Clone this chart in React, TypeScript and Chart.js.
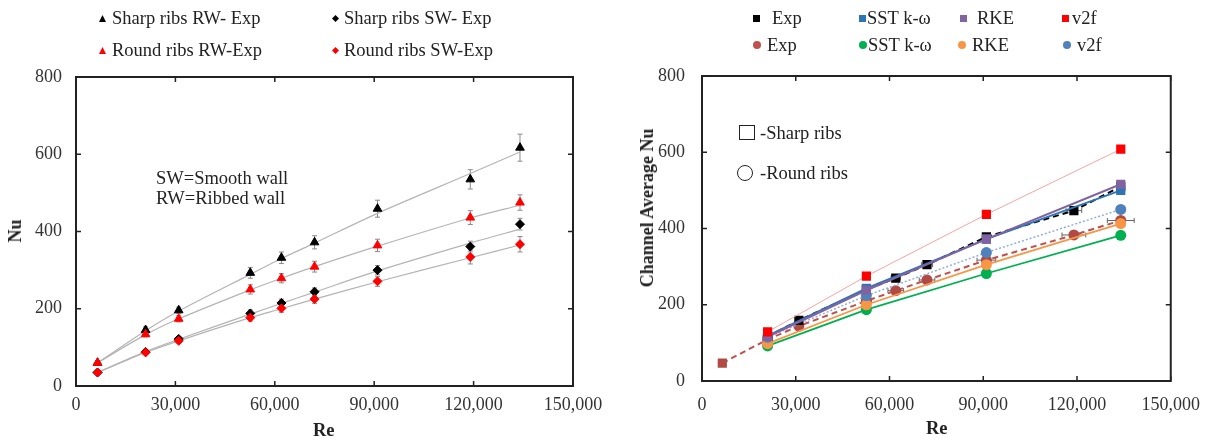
import React, { useEffect, useRef } from 'react';
import { Chart, registerables } from 'chart.js';
Chart.register(...registerables);

// ---------- Data: left chart (experiments) ----------
const RE = [6500, 21000, 31000, 52600, 62000, 72000, 91000, 119000, 134000];
const sharpRW = [60, 145, 196, 293, 332, 372, 459, 535, 617];
const roundRW = [60, 134, 174, 250, 279, 309, 364, 436, 475];
const sharpSW = [35, 88, 122, 188, 215, 244, 300, 361, 419];
const roundSW = [35, 87, 117, 177, 201, 225, 271, 334, 367];
const sharpRWErr = [3, 8, 8, 14, 15, 17, 22, 25, 35];
const roundRWErr = [3, 7, 8, 12, 12, 14, 16, 18, 20];
const sharpSWErr = [2, 5, 6, 9, 10, 10, 12, 14, 15];
const roundSWErr = [2, 5, 6, 9, 10, 11, 13, 18, 20];
const sharpRWFit = [60, 143, 194, 289, 330, 370, 447, 550, 606];
const roundRWFit = [60, 133, 174, 249, 279, 309, 362, 435, 468];
const sharpSWFit = [35, 89, 121, 186, 214, 243, 298, 370, 406];
const roundSWFit = [35, 87, 117, 177, 200, 225, 270, 332, 365];

// ---------- Data: right chart (experiments vs CFD) ----------
const RE_CFD = [21000, 52600, 91000, 134000];
const RE_EXP_SHARP = [21000, 31000, 52600, 62000, 72000, 91000, 119000, 134000];
const expSharp = [117, 159, 240, 270, 305, 378, 447, 510];
const expSharpErrX = [0, 800, 1000, 1500, 1800, 1000, 2500, 0];
const RE_EXP_ROUND = [6500, 21000, 31000, 52600, 62000, 72000, 91000, 119000, 134000];
const expRound = [47, 109, 144, 210, 237, 265, 317, 383, 421];
const expRoundErrX = [0, 800, 1000, 1500, 2500, 2500, 3000, 3800, 4300];
const sstSharp = [118, 243, 372, 500];
const rkeSharp = [116, 238, 372, 516];
const v2fSharp = [129, 275, 437, 608];
const sstRound = [92, 187, 282, 382];
const rkeRound = [98, 200, 305, 413];
const v2fRound = [115, 224, 337, 450];

// ---------- Ticks ----------
const X_TICKS = [0, 30000, 60000, 90000, 120000, 150000];
const X_TICK_LABELS = ['0', '30,000', '60,000', '90,000', '120,000', '150,000'];
const Y_TICKS = [0, 200, 400, 600, 800];
const Y_TICK_LABELS = ['0', '200', '400', '600', '800'];

const FONT = "'Liberation Serif', 'Times New Roman', serif";

const pts = (xs: number[], ys: number[]) => ys.map((y, i) => ({ x: xs[i], y }));

const framePlugin = {
  id: 'frame',
  afterDraw(chart: any) {
    const { ctx, chartArea: a, scales } = chart;
    ctx.save();
    ctx.strokeStyle = '#222';
    ctx.lineWidth = 2;
    ctx.strokeRect(a.left, a.top, a.right - a.left, a.bottom - a.top);
    ctx.lineWidth = 1.5;
    const L = 5;
    X_TICKS.forEach((v) => {
      const px = scales.x.getPixelForValue(v);
      ctx.beginPath();
      ctx.moveTo(px, a.bottom); ctx.lineTo(px, a.bottom - L);
      ctx.moveTo(px, a.top); ctx.lineTo(px, a.top + L);
      ctx.stroke();
    });
    Y_TICKS.forEach((v) => {
      const py = scales.y.getPixelForValue(v);
      ctx.beginPath();
      ctx.moveTo(a.left, py); ctx.lineTo(a.left + L, py);
      ctx.moveTo(a.right, py); ctx.lineTo(a.right - L, py);
      ctx.stroke();
    });
    ctx.restore();
  },
};

const errorPlugin = {
  id: 'errorBars',
  beforeDatasetsDraw(chart: any) {
    const { ctx, scales } = chart;
    chart.data.datasets.forEach((ds: any) => {
      if (!ds.errY && !ds.errX) return;
      ctx.save();
      ctx.strokeStyle = ds.errColor || '#8a8a8a';
      ctx.lineWidth = 1;
      ds.data.forEach((d: any, j: number) => {
        const px = scales.x.getPixelForValue(d.x);
        const py = scales.y.getPixelForValue(d.y);
        const c = 2.5;
        if (ds.errY && ds.errY[j]) {
          const y1 = scales.y.getPixelForValue(d.y - ds.errY[j]);
          const y2 = scales.y.getPixelForValue(d.y + ds.errY[j]);
          ctx.beginPath();
          ctx.moveTo(px, y1); ctx.lineTo(px, y2);
          ctx.moveTo(px - c, y1); ctx.lineTo(px + c, y1);
          ctx.moveTo(px - c, y2); ctx.lineTo(px + c, y2);
          ctx.stroke();
        }
        if (ds.errX && ds.errX[j]) {
          const x1 = scales.x.getPixelForValue(d.x - ds.errX[j]);
          const x2 = scales.x.getPixelForValue(d.x + ds.errX[j]);
          ctx.beginPath();
          ctx.moveTo(x1, py); ctx.lineTo(x2, py);
          ctx.moveTo(x1, py - c); ctx.lineTo(x1, py + c);
          ctx.moveTo(x2, py - c); ctx.lineTo(x2, py + c);
          ctx.stroke();
        }
      });
      ctx.restore();
    });
  },
};

function makeOptions(o: { padTop: number; padRight: number; yWidth: number; xHeight: number; yPad: number; xPad: number }) {
  return {
    responsive: false,
    animation: false,
    devicePixelRatio: 1,
    layout: { padding: { top: o.padTop, right: o.padRight, left: 0, bottom: 0 } },
    plugins: { legend: { display: false }, tooltip: { enabled: false } },
    scales: {
      x: {
        type: 'linear',
        min: 0,
        max: 150000,
        afterBuildTicks: (s: any) => { s.ticks = X_TICKS.map((v) => ({ value: v })); },
        afterFit: (s: any) => { s.height = o.xHeight; },
        grid: { display: false, drawTicks: false },
        border: { display: false },
        ticks: {
          padding: o.xPad, autoSkip: false, maxRotation: 0, color: '#333',
          font: { family: FONT, size: 18 },
          callback: (v: number) => X_TICK_LABELS[X_TICKS.indexOf(v)] ?? '',
        },
      },
      y: {
        type: 'linear',
        min: 0,
        max: 800,
        afterBuildTicks: (s: any) => { s.ticks = Y_TICKS.map((v) => ({ value: v })); },
        afterFit: (s: any) => { s.width = o.yWidth; },
        grid: { display: false, drawTicks: false },
        border: { display: false },
        ticks: {
          padding: o.yPad, autoSkip: false, color: '#333',
          font: { family: FONT, size: 18 },
          callback: (v: number) => Y_TICK_LABELS[Y_TICKS.indexOf(v)] ?? '',
        },
      },
    },
  };
}

function LeftChart() {
  const ref = useRef<HTMLCanvasElement>(null);
  useEffect(() => {
    const fitLine = (ys: number[]) => ({
      data: pts(RE, ys), showLine: true, borderColor: '#b4b4b4', borderWidth: 1.2, pointRadius: 0, tension: 0.3, fill: false,
    });
    const marks = (ys: number[], err: number[], color: string, style: string, r: number) => ({
      data: pts(RE, ys), showLine: false, pointStyle: style, pointRadius: r, pointBackgroundColor: color, pointBorderColor: color, pointBorderWidth: 1, errY: err,
    });
    const chart = new Chart(ref.current!, {
      type: 'scatter',
      data: {
        datasets: [
          marks(roundRW, roundRWErr, '#ff0000', 'triangle', 5),
          marks(roundSW, roundSWErr, '#ff0000', 'rectRot', 4.5),
          marks(sharpRW, sharpRWErr, '#000', 'triangle', 5),
          marks(sharpSW, sharpSWErr, '#000', 'rectRot', 4.5),
          fitLine(sharpRWFit),
          fitLine(roundRWFit),
          fitLine(sharpSWFit),
          fitLine(roundSWFit),
        ] as any,
      },
      options: makeOptions({ padTop: 77, padRight: 42, yWidth: 76, xHeight: 54, yPad: 14, xPad: 8 }) as any,
      plugins: [errorPlugin, framePlugin],
    });
    return () => chart.destroy();
  }, []);
  return <canvas ref={ref} width={615} height={440} style={{ position: 'absolute', left: 0, top: 0 }} />;
}

function RightChart() {
  const ref = useRef<HTMLCanvasElement>(null);
  useEffect(() => {
    const line = (xs: number[], ys: number[], color: string, lineColor: string, style: any, r: number, width: number, dash: number[], extra: any = {}) => ({
      data: pts(xs, ys), showLine: true, borderColor: lineColor, borderWidth: width, borderDash: dash, backgroundColor: color,
      pointStyle: style, pointRadius: r, pointBackgroundColor: color, pointBorderColor: color, pointBorderWidth: 0, tension: 0, fill: false, ...extra,
    });
    const roundStyles = RE_EXP_ROUND.map((_, i) => (i === 0 ? 'rect' : 'circle'));
    const roundRadii = RE_EXP_ROUND.map((_, i) => (i === 0 ? 6.5 : 5.5));
    const chart = new Chart(ref.current!, {
      type: 'scatter',
      data: {
        datasets: [
          line(RE_CFD, v2fSharp, '#ff0000', '#f7a3a3', 'rect', 6.5, 1, []),
          line(RE_CFD, rkeSharp, '#8064a2', '#8064a2', 'rect', 6.5, 2, []),
          line(RE_CFD, sstSharp, '#2e75b6', '#2e75b6', 'rect', 6.5, 2, []),
          line(RE_EXP_SHARP, expSharp, '#000', '#000', 'rect', 6.5, 2, [6, 4], { errX: expSharpErrX, errColor: '#666' }),
          line(RE_CFD, v2fRound, '#4f81bd', '#8fb0da', 'circle', 5.5, 1.5, [2, 2]),
          line(RE_CFD, rkeRound, '#f79646', '#f79646', 'circle', 5.5, 1.8, []),
          line(RE_EXP_ROUND, expRound, '#b04a45', '#c0504d', roundStyles, 5.5, 2, [6, 4], { errX: expRoundErrX, errColor: '#666', pointRadius: roundRadii }),
          line(RE_CFD, sstRound, '#00b050', '#00b050', 'circle', 5.5, 1.8, []),
        ] as any,
      },
      options: makeOptions({ padTop: 76, padRight: 37, yWidth: 102, xHeight: 59, yPad: 17, xPad: 13 }) as any,
      plugins: [errorPlugin, framePlugin],
    });
    return () => chart.destroy();
  }, []);
  return <canvas ref={ref} width={613} height={440} style={{ position: 'absolute', left: 600, top: 0 }} />;
}

// ---------- HTML overlay text ----------
const textStyle: React.CSSProperties = { position: 'absolute', fontFamily: FONT, fontSize: 18.5, lineHeight: '20px', color: '#222', whiteSpace: 'nowrap' };

function Txt({ x, y, children, bold }: { x: number; y: number; children: React.ReactNode; bold?: boolean }) {
  return <div style={{ ...textStyle, left: x, top: y - 10, fontWeight: bold ? 'bold' : 'normal' }}>{children}</div>;
}

function VTxt({ cx, cy, children }: { cx: number; cy: number; children: React.ReactNode }) {
  return (
    <div style={{ ...textStyle, fontSize: 18, left: cx, top: cy, fontWeight: 'bold', transform: 'translate(-50%, -50%) rotate(-90deg)' }}>{children}</div>
  );
}

function Marker({ x, y, shape, color, size }: { x: number; y: number; shape: string; color: string; size: number }) {
  const h = size / 2;
  let el: React.ReactNode = null;
  if (shape === 'tri') el = <polygon points={`${h},0 ${size},${size} 0,${size}`} fill={color} />;
  if (shape === 'dia') el = <polygon points={`${h},0 ${size},${h} ${h},${size} 0,${h}`} fill={color} />;
  if (shape === 'sq') el = <rect x={0} y={0} width={size} height={size} fill={color} />;
  if (shape === 'ci') el = <circle cx={h} cy={h} r={h} fill={color} />;
  return (
    <svg width={size} height={size} style={{ position: 'absolute', left: x - h, top: y - h }}>{el}</svg>
  );
}

export default function App() {
  return (
    <div style={{ position: 'absolute', left: 0, top: 0, width: 1213, height: 440, background: '#fff', overflow: 'hidden' }}>
      <LeftChart />
      <RightChart />

      {/* left legend */}
      <Marker x={102} y={18} shape="tri" color="#000" size={7} />
      <Txt x={112} y={18}>Sharp ribs RW- Exp</Txt>
      <Marker x={335} y={18} shape="dia" color="#000" size={7} />
      <Txt x={344} y={18}>Sharp ribs SW- Exp</Txt>
      <Marker x={102} y={50} shape="tri" color="#ff0000" size={7} />
      <Txt x={112} y={50}>Round ribs RW-Exp</Txt>
      <Marker x={335} y={50} shape="dia" color="#ff0000" size={7} />
      <Txt x={344} y={50}>Round ribs SW-Exp</Txt>

      {/* left annotations */}
      <Txt x={156} y={178}>SW=Smooth wall</Txt>
      <Txt x={156} y={198}>RW=Ribbed wall</Txt>

      {/* left axis titles */}
      <VTxt cx={15} cy={231}>Nu</VTxt>
      <Txt x={313} y={430} bold>Re</Txt>

      {/* right legend */}
      <Marker x={756} y={18} shape="sq" color="#000" size={7} />
      <Txt x={772} y={18}>Exp</Txt>
      <Marker x={862} y={18} shape="sq" color="#2e75b6" size={7} />
      <Txt x={867} y={18}>SST k-ω</Txt>
      <Marker x={963} y={18} shape="sq" color="#8064a2" size={7} />
      <Txt x={977} y={18}>RKE</Txt>
      <Marker x={1065} y={18} shape="sq" color="#ff0000" size={7} />
      <Txt x={1072} y={18}>v2f</Txt>
      <Marker x={757} y={45} shape="ci" color="#c0504d" size={8} />
      <Txt x={767} y={45}>Exp</Txt>
      <Marker x={863} y={45} shape="ci" color="#00b050" size={8} />
      <Txt x={868} y={45}>SST k-ω</Txt>
      <Marker x={962} y={45} shape="ci" color="#f79646" size={8} />
      <Txt x={972} y={45}>RKE</Txt>
      <Marker x={1067} y={45} shape="ci" color="#4f81bd" size={8} />
      <Txt x={1077} y={45}>v2f</Txt>

      {/* right annotations */}
      <div style={{ position: 'absolute', left: 739, top: 125, width: 14, height: 13, border: '1.5px solid #222' }} />
      <Txt x={760} y={133}>-Sharp ribs</Txt>
      <div style={{ position: 'absolute', left: 737, top: 165, width: 14, height: 14, borderRadius: '50%', border: '1.5px solid #222' }} />
      <Txt x={760} y={173}>-Round ribs</Txt>

      {/* right axis titles */}
      <VTxt cx={647} cy={208}>Channel Average Nu</VTxt>
      <Txt x={926} y={428} bold>Re</Txt>
    </div>
  );
}
